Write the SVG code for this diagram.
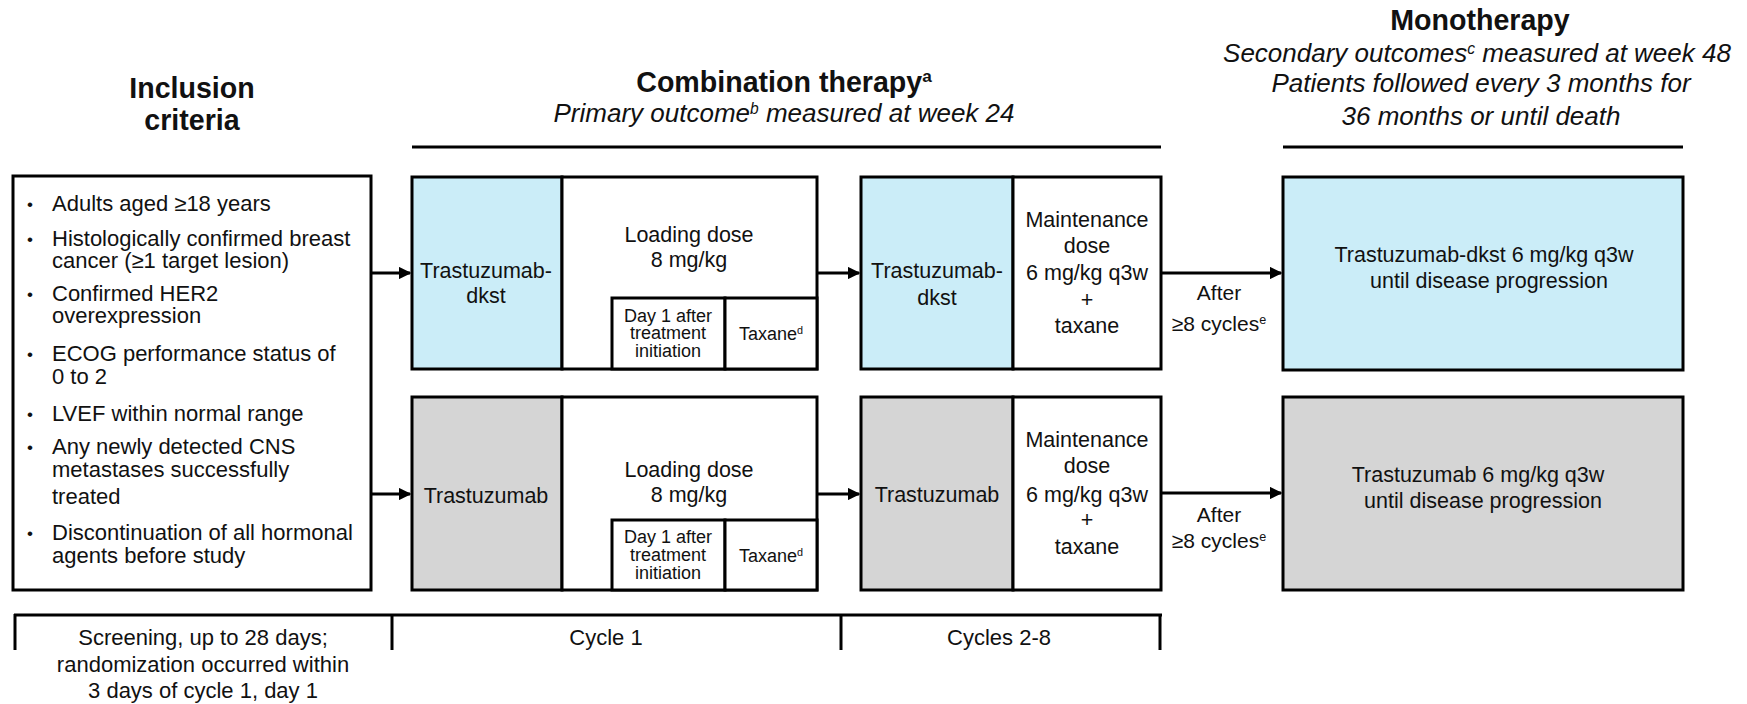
<svg xmlns="http://www.w3.org/2000/svg" width="1747" height="704" viewBox="0 0 1747 704">
<defs>
<style>
text{font-family:"Liberation Sans",Arial,sans-serif;fill:#111;}
.h{font-size:28.6px;font-weight:bold;text-anchor:middle;}
.it{font-size:26px;font-style:italic;text-anchor:middle;}
.b{font-size:22px;}
.dot{font-size:17px;}
.t{font-size:21.5px;text-anchor:middle;}
.s{font-size:18px;text-anchor:middle;}
.a{font-size:21px;text-anchor:middle;}
.sup{font-size:60%;}
.box{stroke:#000;stroke-width:3;}
.blue{fill:#CBEDF8;}
.gray{fill:#D5D5D5;}
.white{fill:#fff;}
.ln{stroke:#000;stroke-width:3;fill:none;}
</style>
<marker id="arr" viewBox="0 0 10 10" refX="9" refY="5" markerWidth="4.2" markerHeight="4.2" orient="auto" markerUnits="strokeWidth">
<path d="M0,0 L10,5 L0,10 z" fill="#000"/>
</marker>
</defs>
<rect width="1747" height="704" fill="#fff"/>

<g id="headers">
<text class="h" x="192" y="98">Inclusion</text>
<text class="h" x="192" y="130">criteria</text>
<text class="h" x="784" y="92">Combination therapy<tspan class="sup" baseline-shift="super">a</tspan></text>
<text class="it" x="784" y="122">Primary outcome<tspan class="sup" baseline-shift="super">b</tspan> measured at week 24</text>
<line class="ln" x1="412" y1="147" x2="1161" y2="147"/>
<text class="h" x="1480" y="30">Monotherapy</text>
<text class="it" x="1477" y="62">Secondary outcomes<tspan class="sup" baseline-shift="super">c</tspan> measured at week 48</text>
<text class="it" x="1481" y="92">Patients followed every 3 months for</text>
<text class="it" x="1481" y="125">36 months or until death</text>
<line class="ln" x1="1283" y1="147" x2="1683" y2="147"/>
</g>

<g id="inclusion">
<rect class="box white" x="13" y="176" width="358" height="414"/>
<text class="dot" x="27" y="210">•</text><text class="b" x="52" y="211">Adults aged ≥18 years</text>
<text class="dot" x="27" y="245">•</text><text class="b" x="52" y="246">Histologically confirmed breast</text>
<text class="b" x="52" y="268">cancer (≥1 target lesion)</text>
<text class="dot" x="27" y="300">•</text><text class="b" x="52" y="301">Confirmed HER2</text>
<text class="b" x="52" y="323">overexpression</text>
<text class="dot" x="27" y="360">•</text><text class="b" x="52" y="361">ECOG performance status of</text>
<text class="b" x="52" y="384">0 to 2</text>
<text class="dot" x="27" y="420">•</text><text class="b" x="52" y="421">LVEF within normal range</text>
<text class="dot" x="27" y="453">•</text><text class="b" x="52" y="454">Any newly detected CNS</text>
<text class="b" x="52" y="477">metastases successfully</text>
<text class="b" x="52" y="504">treated</text>
<text class="dot" x="27" y="539">•</text><text class="b" x="52" y="540">Discontinuation of all hormonal</text>
<text class="b" x="52" y="563">agents before study</text>
</g>

<g id="cycle1-dkst">
<rect class="box blue" x="412" y="177" width="150" height="192"/>
<rect class="box white" x="562" y="177" width="255" height="192"/>
<rect class="box white" x="612" y="298" width="113" height="71"/>
<rect class="box white" x="725" y="298" width="92" height="71"/>
<text class="t" x="486" y="278">Trastuzumab-</text>
<text class="t" x="486" y="303">dkst</text>
<text class="t" x="689" y="242">Loading dose</text>
<text class="t" x="689" y="267">8 mg/kg</text>
<text class="s" x="668" y="322">Day 1 after</text>
<text class="s" x="668" y="339">treatment</text>
<text class="s" x="668" y="357">initiation</text>
<text class="s" x="771" y="340">Taxane<tspan class="sup" baseline-shift="super">d</tspan></text>
</g>

<g id="cycle1-ref">
<rect class="box gray" x="412" y="397" width="150" height="193"/>
<rect class="box white" x="562" y="397" width="255" height="193"/>
<rect class="box white" x="612" y="520" width="113" height="70"/>
<rect class="box white" x="725" y="520" width="92" height="70"/>
<text class="t" x="486" y="503">Trastuzumab</text>
<text class="t" x="689" y="477">Loading dose</text>
<text class="t" x="689" y="502">8 mg/kg</text>
<text class="s" x="668" y="543">Day 1 after</text>
<text class="s" x="668" y="561">treatment</text>
<text class="s" x="668" y="579">initiation</text>
<text class="s" x="771" y="562">Taxane<tspan class="sup" baseline-shift="super">d</tspan></text>
</g>

<g id="cycles2-8-dkst">
<rect class="box blue" x="861" y="177" width="152" height="192"/>
<rect class="box white" x="1013" y="177" width="148" height="192"/>
<text class="t" x="937" y="278">Trastuzumab-</text>
<text class="t" x="937" y="305">dkst</text>
<text class="t" x="1087" y="227">Maintenance</text>
<text class="t" x="1087" y="253">dose</text>
<text class="t" x="1087" y="280">6 mg/kg q3w</text>
<text class="t" x="1087" y="307">+</text>
<text class="t" x="1087" y="333">taxane</text>
</g>

<g id="cycles2-8-ref">
<rect class="box gray" x="861" y="397" width="152" height="193"/>
<rect class="box white" x="1013" y="397" width="148" height="193"/>
<text class="t" x="937" y="502">Trastuzumab</text>
<text class="t" x="1087" y="447">Maintenance</text>
<text class="t" x="1087" y="473">dose</text>
<text class="t" x="1087" y="502">6 mg/kg q3w</text>
<text class="t" x="1087" y="527">+</text>
<text class="t" x="1087" y="554">taxane</text>
</g>

<g id="mono-dkst">
<rect class="box blue" x="1283" y="177" width="400" height="193"/>
<text class="t" x="1484" y="262">Trastuzumab-dkst 6 mg/kg q3w</text>
<text class="t" x="1489" y="288">until disease progression</text>
</g>

<g id="mono-ref">
<rect class="box gray" x="1283" y="397" width="400" height="193"/>
<text class="t" x="1478" y="482">Trastuzumab 6 mg/kg q3w</text>
<text class="t" x="1483" y="508">until disease progression</text>
</g>

<g id="connectors">
<line class="ln" x1="371" y1="273" x2="410" y2="273" marker-end="url(#arr)"/>
<line class="ln" x1="371" y1="494" x2="410" y2="494" marker-end="url(#arr)"/>
<line class="ln" x1="817" y1="273" x2="859" y2="273" marker-end="url(#arr)"/>
<line class="ln" x1="817" y1="494" x2="859" y2="494" marker-end="url(#arr)"/>
<line class="ln" x1="1161" y1="273" x2="1281" y2="273" marker-end="url(#arr)"/>
<line class="ln" x1="1161" y1="493" x2="1281" y2="493" marker-end="url(#arr)"/>
<text class="a" x="1219" y="300">After</text>
<text class="a" x="1219" y="331">≥8 cycles<tspan class="sup" baseline-shift="super">e</tspan></text>
<text class="a" x="1219" y="522">After</text>
<text class="a" x="1219" y="548">≥8 cycles<tspan class="sup" baseline-shift="super">e</tspan></text>
</g>

<g id="timeline">
<line class="ln" x1="14" y1="615" x2="1162" y2="615"/>
<line class="ln" x1="15" y1="614" x2="15" y2="650"/>
<line class="ln" x1="392" y1="614" x2="392" y2="650"/>
<line class="ln" x1="841" y1="614" x2="841" y2="650"/>
<line class="ln" x1="1160" y1="614" x2="1160" y2="650"/>
<text class="t" x="203" y="645" style="font-size:22px">Screening, up to 28 days;</text>
<text class="t" x="203" y="672" style="font-size:22px">randomization occurred within</text>
<text class="t" x="203" y="698" style="font-size:22px">3 days of cycle 1, day 1</text>
<text class="t" x="606" y="645" style="font-size:22px">Cycle 1</text>
<text class="t" x="999" y="645" style="font-size:22px">Cycles 2-8</text>
</g>
</svg>
